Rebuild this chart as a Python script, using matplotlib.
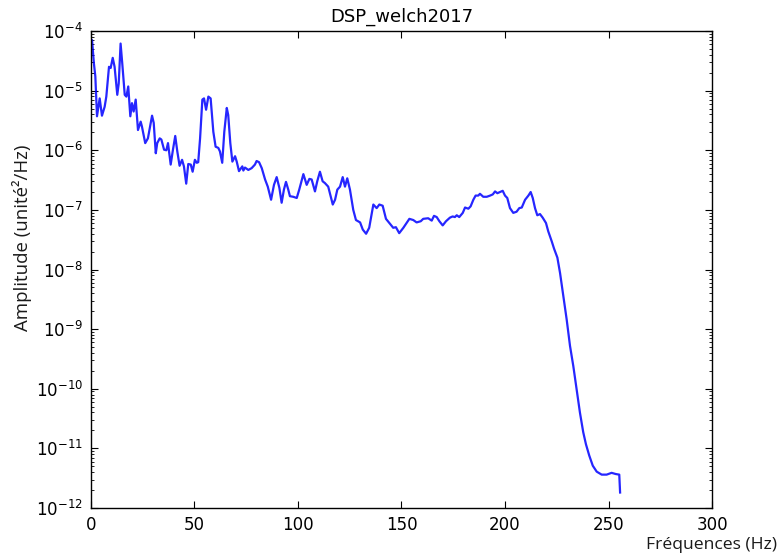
import numpy as np
import matplotlib
matplotlib.use("Agg")
import matplotlib.pyplot as plt

# spectre : frequence (Hz) et DSP en dB (10*log10)
freq = [0.1, 0.5, 1.4, 2.1, 2.9, 4.2, 5.3, 6.6, 7.4, 8.7, 9.5, 10.5, 11.4, 12.7, 13.4,
        14.3, 15.1, 16.3, 17.1, 18.0, 19.0, 19.8, 20.6, 21.6, 22.7, 24.0, 24.6, 26.2,
        27.5, 29.5, 30.3, 31.3, 32.0, 33.2, 34.0, 35.3, 36.4, 37.2, 38.5, 39.6, 40.7,
        41.7, 42.8, 44.0, 44.9, 46.0, 47.0, 48.2, 49.1, 50.2, 51.1, 51.8, 52.7, 53.8,
        54.6, 55.6, 56.7, 57.8, 59.1, 60.2, 61.5, 62.3, 63.4, 64.4, 65.6, 66.3, 67.3,
        68.3, 69.6, 70.4, 71.5, 72.5, 73.1, 73.6, 74.4, 76.0, 77.6, 79.2, 80.0, 81.2,
        82.5, 84.1, 85.4, 87.0, 88.4, 89.7, 91.0, 92.1, 93.2, 94.2, 95.3, 96.1, 97.7,
        99.4, 100.6, 102.6, 104.2, 105.5, 106.6, 108.2, 109.3, 110.6, 111.9, 113.0,
        114.6, 116.8, 117.9, 119.0, 120.3, 121.6, 122.7, 123.8, 125.1, 126.7, 128.0,
        130.0, 131.3, 132.9, 134.4, 136.4, 138.0, 139.3, 140.9, 142.5, 144.4, 146.0,
        147.3, 148.9, 150.9, 153.8, 155.7, 157.3, 159.3, 160.5, 162.9, 164.6, 165.7,
        167.0, 168.3, 169.9, 171.5, 173.4, 174.7, 175.8, 176.7, 177.9, 179.6, 180.7,
        182.3, 183.4, 184.7, 185.8, 187.1, 187.9, 189.5, 191.2, 192.8, 194.1, 195.2,
        196.3, 197.6, 198.9, 200.0, 201.1, 202.4, 204.0, 205.6, 206.9, 208.1, 209.7,
        211.3, 212.4, 213.4, 214.5, 215.6, 216.9, 218.2, 219.8, 220.9, 222.6, 223.7,
        225.3, 226.6, 228.2, 229.8, 231.4, 233.0, 234.6, 236.2, 237.8, 239.1, 240.7,
        242.4, 244.3, 246.7, 249.1, 251.5, 253.5, 255.2, 255.6]
dsp_db = [-41.8, -41.5, -45.4, -47.6, -54.3, -51.3, -54.2, -52.7, -51.0, -46.0, -46.2,
          -44.5, -46.0, -50.7, -48.8, -42.1, -45.4, -50.7, -51.0, -49.3, -54.3, -52.1,
          -53.5, -51.5, -56.6, -55.2, -56.0, -58.8, -58.0, -54.2, -55.4, -60.5, -58.8,
          -58.0, -58.2, -59.9, -60.0, -58.8, -62.4, -59.9, -57.6, -60.2, -62.6, -61.6,
          -62.7, -65.6, -62.3, -62.4, -63.6, -61.6, -62.1, -62.0, -58.0, -51.5, -51.3,
          -53.2, -51.0, -51.3, -56.9, -59.4, -59.6, -60.2, -62.1, -56.9, -52.9, -54.1,
          -58.8, -61.9, -61.0, -61.9, -63.5, -63.0, -62.7, -63.4, -62.9, -63.3, -63.0,
          -62.4, -61.8, -62.0, -63.0, -64.9, -66.1, -68.3, -65.8, -64.5, -66.3, -68.8,
          -66.6, -65.3, -66.6, -67.7, -67.8, -68.0, -66.6, -64.0, -65.8, -64.8, -64.9,
          -66.9, -65.2, -63.6, -65.2, -65.5, -66.1, -69.1, -68.3, -66.6, -66.1, -64.5,
          -66.1, -64.7, -66.6, -70.0, -71.7, -72.1, -73.3, -74.0, -73.0, -69.1, -69.7,
          -69.1, -69.3, -71.5, -72.3, -73.0, -72.9, -73.9, -73.0, -71.5, -71.7, -72.1,
          -71.9, -71.5, -71.4, -71.8, -71.0, -71.2, -71.9, -72.6, -71.9, -71.3, -71.1,
          -71.2, -70.9, -71.2, -70.5, -69.6, -69.8, -69.4, -68.3, -67.6, -67.6, -67.3,
          -67.8, -67.8, -67.6, -67.4, -66.9, -67.2, -67.0, -66.8, -67.6, -68.0, -69.7,
          -70.5, -70.3, -69.7, -69.6, -68.3, -67.6, -67.0, -68.0, -69.7, -70.9, -70.7,
          -71.3, -72.2, -73.6, -75.3, -76.5, -78.0, -80.6, -84.5, -88.4, -92.8, -96.2,
          -100.1, -104.0, -107.3, -109.3, -111.2, -112.9, -113.9, -114.4, -114.4,
          -114.1, -114.3, -114.4, -117.4]

dsp = 10 ** (np.array(dsp_db) / 10)

plt.rcParams['xtick.direction'] = 'in'
plt.rcParams['ytick.direction'] = 'in'
plt.rcParams['xtick.top'] = True
plt.rcParams['ytick.right'] = True
plt.rcParams['mathtext.default'] = 'regular'

fig = plt.figure(figsize=(7.79, 5.56), dpi=100)
ax = fig.add_axes([0.1168, 0.0863, 0.7972, 0.8579])

ax.semilogy(freq, dsp, color='#0000ff', lw=1.6, alpha=0.85)
ax.set_xlim(0, 300)
ax.set_ylim(1e-12, 1e-4)
ax.set_xticks([0, 50, 100, 150, 200, 250, 300])
ax.tick_params(which='major', length=5, labelsize=12, width=0.8, pad=6)
ax.tick_params(which='minor', length=2.5, width=0.6)
ax.tick_params(axis='x', which='minor', bottom=False, top=False)
ax.set_title('DSP_welch2017', fontsize=13, pad=7)
for s in ax.spines.values():
    s.set_linewidth(1.0)

fig.text(0.997, 0.006, 'Fréquences (Hz)', ha='right', va='bottom',
         fontsize=12.6, family='Open Sans', color='#1a1a1a')
fig.text(0.028, 0.572, 'Amplitude (unité²/Hz)', ha='center', va='center',
         rotation=90, fontsize=13.4, family='Open Sans', color='#1a1a1a')

fig.savefig('out.png', dpi=100)
